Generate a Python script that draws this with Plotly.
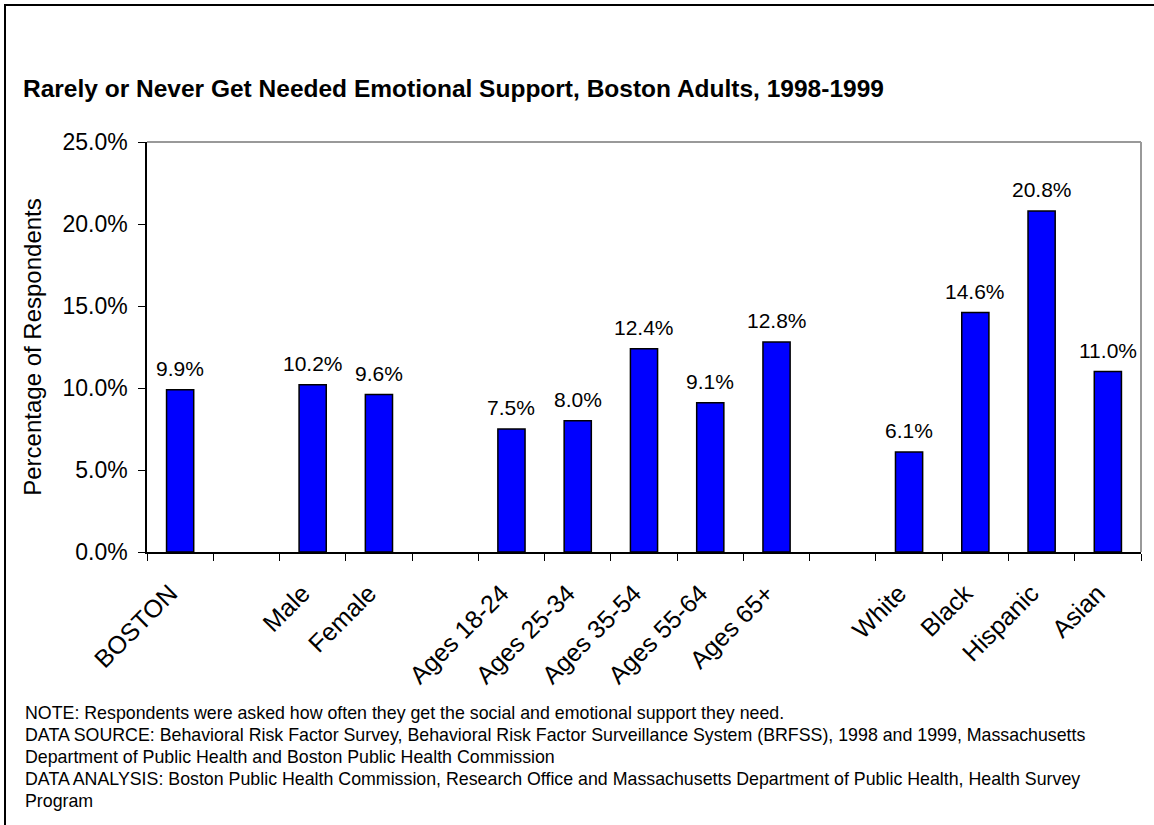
import plotly.graph_objects as go

# ---- data ----
categories = ["BOSTON", " ", "Male", "Female", "  ",
              "Ages 18-24", "Ages 25-34", "Ages 35-54", "Ages 55-64", "Ages 65+", "   ",
              "White", "Black", "Hispanic", "Asian"]
values = [9.9, None, 10.2, 9.6, None,
          7.5, 8.0, 12.4, 9.1, 12.8, None,
          6.1, 14.6, 20.8, 11.0]
y_ticks = [0, 5, 10, 15, 20, 25]

title_text = "Rarely or Never Get Needed Emotional Support, Boston Adults, 1998-1999"
y_title = "Percentage of Respondents"
notes = [
    "NOTE: Respondents were asked how often they get the social and emotional support they need.",
    "DATA SOURCE: Behavioral Risk Factor Survey, Behavioral Risk Factor Surveillance System (BRFSS), 1998 and 1999, Massachusetts",
    "Department of Public Health and Boston Public Health Commission",
    "DATA ANALYSIS: Boston Public Health Commission, Research Office and Massachusetts Department of Public Health, Health Survey",
    "Program",
]

FONT = "Liberation Sans, Arial, sans-serif"
W, H = 1154, 825
L, R, T, B = 147, 13, 142, 273
PW, PH = W - L - R, H - T - B

def px_x(px):
    return (px - L) / PW

def px_y(py):
    return (H - B - py) / PH

fig = go.Figure(go.Bar(
    x=categories, y=values,
    marker=dict(color="#0000FF", line=dict(color="#000000", width=1.5)),
    cliponaxis=False,
))

fig.update_layout(
    width=W, height=H,
    margin=dict(l=L, r=R, t=T, b=B, pad=0),
    paper_bgcolor="white", plot_bgcolor="white",
    showlegend=False, bargap=0.59,
    font=dict(family=FONT, color="#000000"),
    title=dict(text="<b>%s</b>" % title_text, x=23 / W, xanchor="left", xref="container",
               y=1 - 88 / H, yanchor="middle", yref="container",
               font=dict(family=FONT, size=24.5, color="#000000")),
)

fig.update_xaxes(
    type="category", categoryorder="array", categoryarray=categories,
    tickson="boundaries", ticks="outside", ticklen=7, tickcolor="#000000",
    showline=True, linecolor="#000000", linewidth=1.5, showgrid=False,
    tickangle=-45, tickfont=dict(family=FONT, size=25, color="#000000"),
    ticklabelstandoff=15, ticklabelshift=-10,
    range=[-0.5, len(categories) - 0.5],
)
fig.update_yaxes(
    range=[0, 25], tickvals=y_ticks, ticktext=["%.1f%%" % v for v in y_ticks],
    ticks="outside", ticklen=7, tickcolor="#000000",
    showline=True, linecolor="#000000", linewidth=1.5, showgrid=False, zeroline=False,
    tickfont=dict(family=FONT, size=23, color="#000000"), ticklabelstandoff=6,
    title=dict(text=y_title, font=dict(family=FONT, size=24, color="#000000"), standoff=14),
)

shapes = [
    # plot-area top and right border (gray)
    dict(type="line", xref="paper", yref="paper", x0=0, x1=1, y0=1, y1=1,
         line=dict(color="#999999", width=2)),
    dict(type="line", xref="paper", yref="paper", x0=1, x1=1, y0=0, y1=1,
         line=dict(color="#999999", width=2)),
    # outer frame (left and top)
    dict(type="line", xref="paper", yref="paper", x0=px_x(5), x1=px_x(5), y0=px_y(4), y1=px_y(H + 5),
         line=dict(color="#000000", width=2)),
    dict(type="line", xref="paper", yref="paper", x0=px_x(4), x1=px_x(W + 5), y0=px_y(5), y1=px_y(5),
         line=dict(color="#000000", width=2)),
]
fig.update_layout(shapes=shapes)

anns = []
# value labels above bars
for c, v in zip(categories, values):
    if v is None:
        continue
    anns.append(dict(x=c, y=v, xref="x", yref="y", text="%.1f%%" % v,
                     showarrow=False, xanchor="center", yanchor="bottom", yshift=8,
                     font=dict(family=FONT, size=21, color="#000000")))
# footnotes
for i, line in enumerate(notes):
    anns.append(dict(text=line, xref="paper", yref="paper", x=px_x(23), y=px_y(713 + 22 * i),
                     xanchor="left", yanchor="middle", showarrow=False, align="left",
                     font=dict(family=FONT, size=17.8, color="#000000")))
fig.update_layout(annotations=anns)

fig.write_html("out.html")
